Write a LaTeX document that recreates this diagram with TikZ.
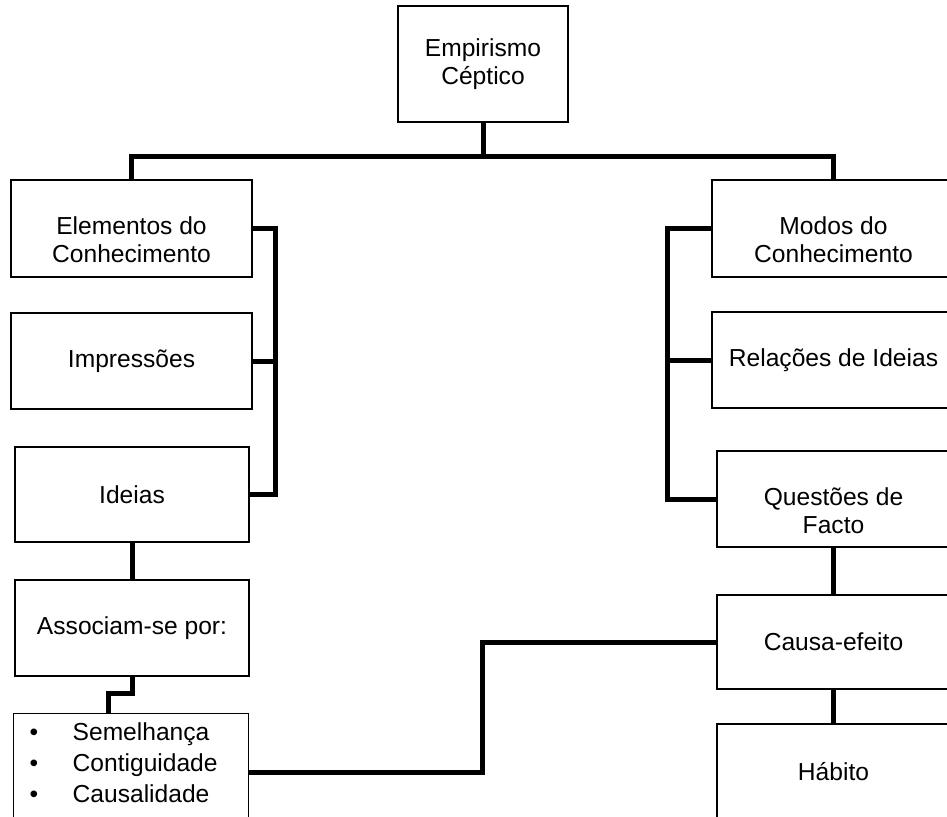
\documentclass[tikz,border=0pt]{standalone}
\usepackage{fontspec}
\setmainfont{Liberation Sans}
\newcommand{\itm}[1]{\makebox[0.86cm][l]{\textbullet}#1}
\newcommand{\lowstrut}{\rule{0pt}{0.82cm}}

\begin{document}
\begin{tikzpicture}
    [
    x=0.02cm, y=-0.02cm,
    font=\fontsize{14}{15.9}\selectfont,
    box/.style={draw, line width=0.8pt, align=center, inner sep=0pt},
    conn/.style={line width=0.1cm},
    ]
    \useasboundingbox (0,0) rectangle (947,816);

    \node[box, minimum width=3.4cm, minimum height=2.32cm] (box_emp) at (483,64)
    {Empirismo\\Céptico};

    % left column
    \node[box, minimum width=4.82cm, minimum height=1.94cm] (box_elem) at (131.5,228.5)
    {\lowstrut Elementos do\\Conhecimento};
    \node[box, minimum width=4.82cm, minimum height=1.92cm] (box_imp) at (131.5,361)
    {Impressões};
    \node[box, minimum width=4.68cm, minimum height=1.9cm] (box_ideias) at (132,494.5)
    {Ideias};
    \node[box, minimum width=4.68cm, minimum height=1.92cm] (box_assoc) at (132,628)
    {Associam-se por:};
    \node[box, align=left, anchor=north west, text width=4.06cm, inner xsep=0.32cm,
          inner ysep=0.18cm, font=\fontsize{14}{17.6}\selectfont, text depth=1.62cm] (box_lista) at (13,713)
    {\itm{Semelhança}\\\itm{Contiguidade}\\\itm{Causalidade}};

    % right column
    \node[box, minimum width=4.86cm, minimum height=1.94cm] (box_modos) at (833.5,228.5)
    {\lowstrut Modos do\\Conhecimento};
    \node[box, minimum width=4.86cm, minimum height=1.92cm] (box_rel) at (833.5,360)
    {Relações de Ideias};
    \node[box, minimum width=4.66cm, minimum height=1.92cm] (box_quest) at (833.5,499)
    {\lowstrut Questões de\\Facto};
    \node[box, minimum width=4.66cm, minimum height=1.88cm] (box_causa) at (833.5,642)
    {Causa-efeito};
    \node[box, minimum width=4.66cm, minimum height=1.9cm] (box_habito) at (833.5,771.5)
    {Hábito};

    % connectors
    \coordinate (bar) at (483,156);
    \coordinate (lbr) at (275,361);
    \coordinate (rbr) at (667,360);
    \coordinate (zig) at (108,693);
    \coordinate (mid) at (482,700);

    \draw[conn] (box_emp.south) -- (bar);
    \draw[conn] (box_elem.north) |- (bar) -| (box_modos.north);

    \draw[conn] (box_elem.east) -| (lbr) |- (box_ideias.east);
    \draw[conn] (box_imp.east) -- (lbr);
    \draw[conn] (box_modos.west) -| (rbr) |- (box_quest.west);
    \draw[conn] (box_rel.west) -- (rbr);

    \draw[conn] (box_ideias.south) -- (box_assoc.north);
    \draw[conn] (box_assoc.south) |- (zig) -- (zig |- box_lista.north);
    \draw[conn] (box_lista.east) -| (mid) |- (box_causa.west);

    \draw[conn] (box_quest.south) -- (box_causa.north);
    \draw[conn] (box_causa.south) -- (box_habito.north);
\end{tikzpicture}
\end{document}
